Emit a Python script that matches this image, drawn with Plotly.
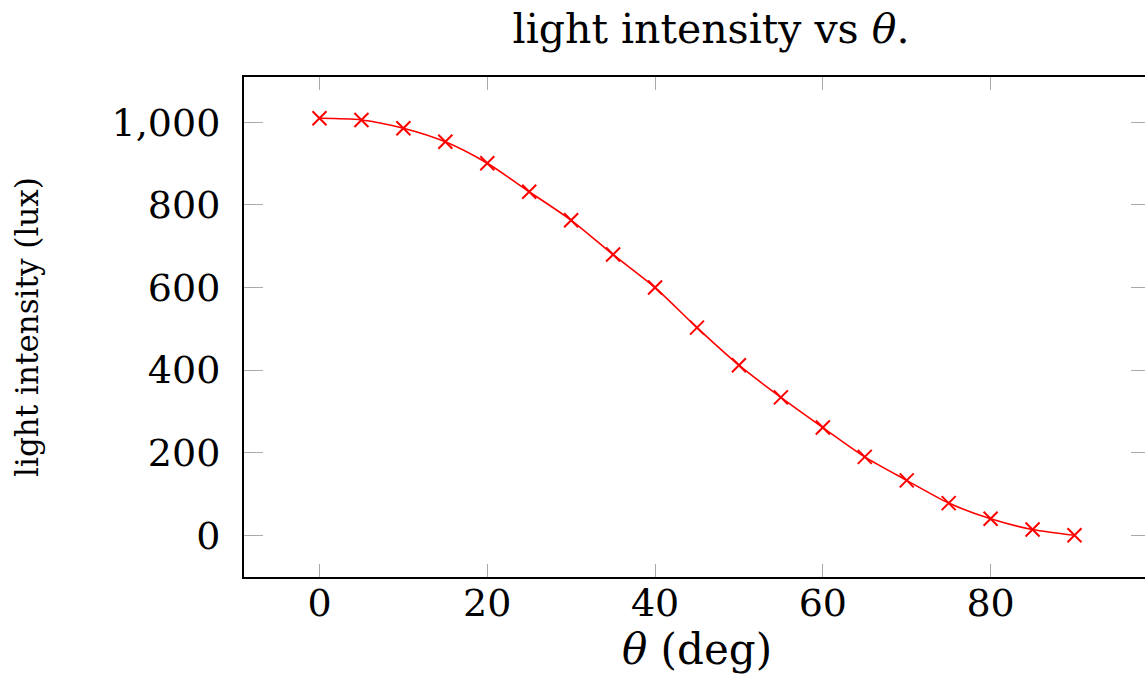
import plotly.graph_objects as go

theta_deg = [0, 5, 10, 15, 20, 25, 30, 35, 40, 45, 50, 55, 60, 65, 70, 75, 80, 85, 90]
intensity_lux = [1010, 1006, 986, 953, 901, 832, 763, 680, 600, 503, 412, 334, 261, 190, 133, 78, 40, 14, 0]
x_ticks = [0, 20, 40, 60, 80]
y_ticks = [0, 200, 400, 600, 800, 1000]

FONT = "DejaVu Serif"

fig = go.Figure()
fig.add_trace(go.Scatter(
    x=theta_deg, y=intensity_lux, mode="lines+markers",
    line=dict(color="#ff0000", width=1.6, shape="spline", smoothing=0.8),
    marker=dict(symbol="x-thin", size=14, color="#ff0000",
                line=dict(color="#ff0000", width=2)),
    showlegend=False, cliponaxis=False,
))

fig.update_layout(
    width=1162, height=676,
    margin=dict(l=244, r=10, t=77, b=99),
    paper_bgcolor="white", plot_bgcolor="white",
    font=dict(family=FONT, color="black"),
    title=dict(text="light intensity vs <i>θ</i>.", font=dict(size=41, family=FONT),
               x=711/1162, xanchor="center", y=1 - 29/676, yanchor="middle"),
    showlegend=False,
)

fig.update_xaxes(
    range=[-9, 99], tickvals=x_ticks, ticktext=[str(v) for v in x_ticks],
    showgrid=False, zeroline=False,
    showline=True, linecolor="black", linewidth=2, mirror="ticks",
    ticks="inside", ticklen=13, tickwidth=1.2, tickcolor="#aaaaaa",
    tickfont=dict(size=38, family=FONT), ticklabelstandoff=-9,
    title=dict(text="<i>θ</i> (deg)", font=dict(size=42, family=FONT), standoff=4),
)
fig.update_yaxes(
    range=[-101, 1110], tickvals=y_ticks, tickformat=",",
    showgrid=False, zeroline=False,
    showline=True, linecolor="black", linewidth=2, mirror="ticks",
    ticks="inside", ticklen=19, tickwidth=1.2, tickcolor="#aaaaaa",
    tickfont=dict(size=38, family=FONT), ticklabelstandoff=14,
    title=dict(text="light intensity (lux)", font=dict(size=31, family=FONT), standoff=64),
)

fig.write_html(
    "out.html",
    config={"displayModeBar": False},
    post_script="document.body.style.margin='0';document.body.style.padding='0';"
                "document.body.style.overflow='hidden';"
                "document.documentElement.style.overflow='hidden';",
)
